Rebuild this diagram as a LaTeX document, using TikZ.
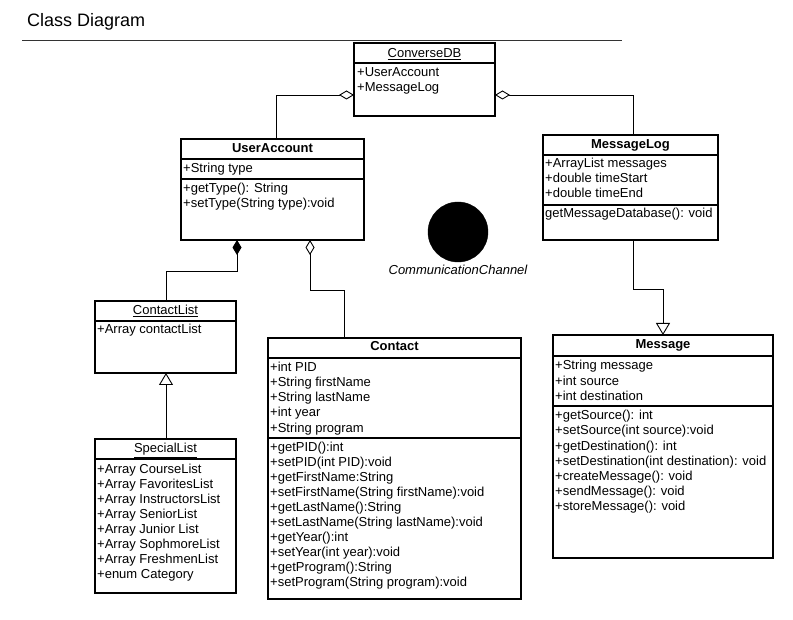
\documentclass[tikz,border=0pt]{standalone}
\usepackage{fontspec}
\setmainfont{Liberation Sans}
\usetikzlibrary{arrows.meta}
\begin{document}
\begin{tikzpicture}[x=1pt,y=-1pt,
  classbox/.style={draw=black,line width=1.8pt,rectangle,inner sep=0pt,outer sep=0pt,anchor=north west},
  sepline/.style={line width=1.6pt},
  member/.style={anchor=base west,inner sep=0pt,font=\fontsize{13}{15}\selectfont},
  header/.style={anchor=base,inner sep=0pt,font=\fontsize{13}{15}\selectfont\bfseries},
  uheader/.style={anchor=base,inner sep=0pt,font=\fontsize{13}{15}\selectfont},
  conn/.style={line width=0.9pt},
  agg/.style={conn,-{Diamond[open,length=15pt,width=9pt,line width=0.9pt]}},
  comp/.style={conn,-{Diamond[fill=black,length=15pt,width=9pt]}},
  gen/.style={conn,-{Triangle[open,length=12pt,width=14pt,line width=0.9pt]}}]
\useasboundingbox (0,0) rectangle (793,620);

% title and rule
\node[anchor=base west,inner sep=0pt,font=\fontsize{18}{21}\selectfont] (title) at (27,27) {Class Diagram};
\draw[line width=0.7pt,black!80] (22,40) -- (622,40);

% ConverseDB
\node[classbox,minimum width=141pt,minimum height=73pt] (cdb) at (354,43) {};
\draw[sepline] ([yshift=-20pt]cdb.north west) -- ([yshift=-20pt]cdb.north east);
\node[uheader] (cdbh) at (424.5,58) {\underline{ConverseDB}};
\node[member] (cdb1) at (357,77) {+UserAccount};
\node[member] (cdb2) at (357,92) {+MessageLog};

% UserAccount
\node[classbox,minimum width=183pt,minimum height=101pt] (ua) at (181,139) {};
\draw[sepline] ([yshift=-20pt]ua.north west) -- ([yshift=-20pt]ua.north east);
\draw[sepline] ([yshift=-40pt]ua.north west) -- ([yshift=-40pt]ua.north east);
\node[header] (uah) at (272.5,153) {UserAccount};
\node[member] (ua1) at (183,173) {+String type};
\node[member] (ua2) at (183,193) {+getType(): String};
\node[member] (ua3) at (183,208) {+setType(String type):void};

% MessageLog
\node[classbox,minimum width=175pt,minimum height=105pt] (ml) at (543,135) {};
\draw[sepline] ([yshift=-20pt]ml.north west) -- ([yshift=-20pt]ml.north east);
\draw[sepline] ([yshift=-70pt]ml.north west) -- ([yshift=-70pt]ml.north east);
\node[header] (mlh) at (630.5,149) {MessageLog};
\node[member] (ml1) at (545,168) {+ArrayList messages};
\node[member] (ml2) at (545,183) {+double timeStart};
\node[member] (ml3) at (545,198) {+double timeEnd};
\node[member] (ml4) at (545,218) {getMessageDatabase(): void};

% ContactList
\node[classbox,minimum width=141pt,minimum height=72pt] (cl) at (95,301) {};
\draw[sepline] ([yshift=-20pt]cl.north west) -- ([yshift=-20pt]cl.north east);
\node[uheader] (clh) at (165.5,315) {\underline{ContactList}};
\node[member] (cl1) at (97,334) {+Array contactList};

% SpecialList
\node[classbox,minimum width=141pt,minimum height=154pt] (sl) at (95,439) {};
\draw[sepline] ([yshift=-20pt]sl.north west) -- ([yshift=-20pt]sl.north east);
\node[uheader] (slh) at (165.5,453) {\underline{SpecialList}};
\foreach \t [count=\i from 0] in {+Array CourseList,+Array FavoritesList,+Array InstructorsList,+Array SeniorList,+Array Junior List,+Array SophmoreList,+Array FreshmenList,+enum Category}
  \node[member] (sl\i) at (97,473+15*\i) {\t};

% Contact
\node[classbox,minimum width=253pt,minimum height=261pt] (ct) at (268,338) {};
\draw[sepline] ([yshift=-20pt]ct.north west) -- ([yshift=-20pt]ct.north east);
\draw[sepline] ([yshift=-100pt]ct.north west) -- ([yshift=-100pt]ct.north east);
\node[header] (cth) at (394.5,351) {Contact};
\foreach \t [count=\i from 0] in {+int PID,+String firstName,+String lastName,+int year,+String program}
  \node[member] (cta\i) at (270,372+15*\i) {\t};
\foreach \t [count=\i from 0] in {+getPID():int,+setPID(int PID):void,+getFirstName:String,+setFirstName(String firstName):void,+getLastName():String,+setLastName(String lastName):void,+getYear():int,+setYear(int year):void,+getProgram():String,+setProgram(String program):void}
  \node[member] (ctm\i) at (270,451+15*\i) {\t};

% Message
\node[classbox,minimum width=220pt,minimum height=223pt] (msg) at (553,335) {};
\draw[sepline] ([yshift=-21pt]msg.north west) -- ([yshift=-21pt]msg.north east);
\draw[sepline] ([yshift=-71pt]msg.north west) -- ([yshift=-71pt]msg.north east);
\node[header] (msgh) at (663,349) {Message};
\foreach \t [count=\i from 0] in {+String message,+int source,+int destination}
  \node[member] (msga\i) at (555,370+15*\i) {\t};
\foreach \t [count=\i from 0] in {+getSource(): int,+setSource(int source):void,+getDestination(): int,+setDestination(int destination): void,+createMessage(): void,+sendMessage(): void,+storeMessage(): void}
  \node[member] (msgm\i) at (555,420+15*\i) {\t};

% CommunicationChannel
\node[circle,fill=black,draw=black,inner sep=0pt,minimum size=60pt] (cc) at (458,232) {};
\node[anchor=base,inner sep=0pt,font=\fontsize{13}{15}\selectfont\itshape] (ccl) at (458,275) {CommunicationChannel};

% connectors
\coordinate (j1) at (276,95);
\coordinate (j2) at (633,95);
\coordinate (j3) at (166,271);
\coordinate (j4) at (237,271);
\coordinate (j5) at (344,290);
\coordinate (j6) at (310,290);
\coordinate (j7) at (633,289);
\coordinate (j8) at (663,289);
\coordinate (j9) at (166,400);

\draw[agg] (ua.north -| j1) -- (j1) -- (cdb.west |- j1);
\draw[agg] (ml.north -| j2) -- (j2) -- (cdb.east |- j2);
\draw[comp] (cl.north -| j3) -- (j3) -- (j4) -- (ua.south -| j4);
\draw[agg] (ct.north -| j5) -- (j5) -- (j6) -- (ua.south -| j6);
\draw[gen] (sl.north -| j9) -- (cl.south -| j9);
\draw[gen] (ml.south -| j7) -- (j7) -- (j8) -- (msg.north -| j8);
\end{tikzpicture}
\end{document}
